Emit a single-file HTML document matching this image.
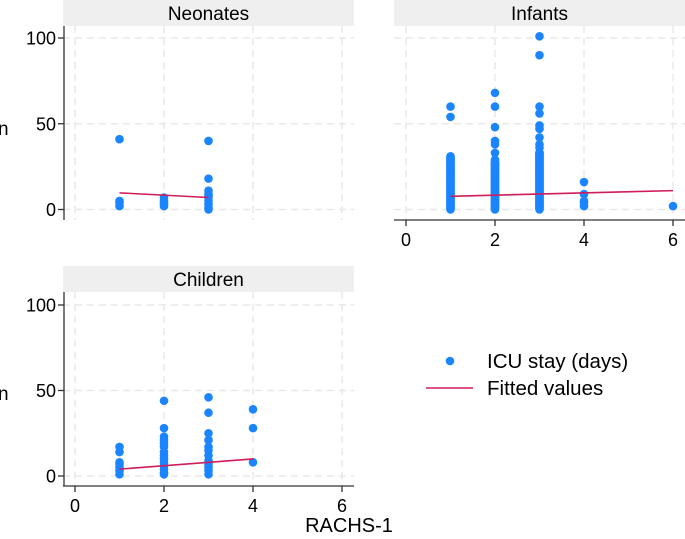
<!DOCTYPE html>
<html><head><meta charset="utf-8"><style>
html,body{margin:0;padding:0;background:#fff;width:685px;height:539px;overflow:hidden}
svg{font-family:"Liberation Sans",Arial,sans-serif}
</style></head><body>
<svg id="chart" width="685" height="539" viewBox="0 0 685 539" xmlns="http://www.w3.org/2000/svg">
<text x="-2" y="135" font-size="19">n</text>
<text x="-2" y="400" font-size="19">n</text>
<text x="349" y="532" font-size="20" text-anchor="middle">RACHS-1</text>
<g>
<circle cx="450" cy="361" r="4.3" fill="#1a85ff"/>
<text x="487" y="368" font-size="20.5">ICU stay (days)</text>
<line x1="426" y1="388" x2="473" y2="388" stroke="#d01c5b" stroke-width="1.5"/>
<text x="487" y="395" font-size="20.5">Fitted values</text>
</g>
</svg>
<script>
const xTicks=[0,2,4,6];
const yTicks=[0,50,100];
const neoX=[1,1,1,1,2,2,2,2,2,3,3,3,3,3,3,3,3,3,3];
const neoY=[41,5,4,2,7,5,4,3,2,40,18,11,9,8,7,5,3,1,0];
const neoFitX=[1,3];const neoFitY=[9.7,7];
const infX=[1,1,2,2,2,2,2,2,2,3,3,3,3,3,3,3,3,3,3,4,4,4,4,4,6];
const infY=[60,54,68,60,48,40,38,33,29,101,90,60,56,49,47,42,38,36,33,16,9,5,4,2,2];
const infDenseX=[1,2,3];const infDenseMax=[31,28,33];
const infFitX=[1,6];const infFitY=[7.7,11];
const chiX=[1,1,1,1,1,1,1,2,2,2,2,2,2,2,2,2,2,2,2,2,2,3,3,3,3,3,3,3,3,3,3,3,3,4,4,4];
const chiY=[17,14,8,7,5,3,1,44,28,23,21,19,17,14,12,10,8,6,4,2,1,46,37,25,21,17,15,12,9,7,5,3,1,39,28,8];
const chiFitX=[1,4];const chiFitY=[4,10];
const NS="http://www.w3.org/2000/svg";
const svg=document.getElementById('chart');
function mk(t,a,p){const e=document.createElementNS(NS,t);for(const k in a)e.setAttribute(k,a[k]);(p||svg).appendChild(e);return e;}
function panel(name,key,L,T,W,H,y0px,y100px,showY,showX,title,xs,ys,fx,fy,dx,dm){
 const g=mk('g',{});
 
 
 const sx=v=>L+12+v*44.5;
 const sy=v=>y0px+(y100px-y0px)*v/100;
 const hb=mk('rect',{x:L,y:T,width:W,height:26,fill:'#efefef'},g);
 
 
 const tt=mk('text',{x:L+W/2,y:T+20,'font-size':19,'text-anchor':'middle'},g);
 tt.textContent=title;
 
 
 const top=T+26,bot=top+H;
 yTicks.forEach(v=>{const l=mk('line',{x1:L,x2:L+W,y1:sy(v),y2:sy(v),stroke:'#e8e8e8','stroke-width':1.5,'stroke-dasharray':'7,5'},g);
  });
 xTicks.forEach(v=>{const l=mk('line',{x1:sx(v),x2:sx(v),y1:top,y2:bot,stroke:'#e8e8e8','stroke-width':1.5,'stroke-dasharray':'7,5'},g);
  });
 if(showY){const a=mk('line',{x1:L+1,x2:L+1,y1:top,y2:bot,stroke:'#333','stroke-width':1.3},g);
  
  yTicks.forEach(v=>{mk('line',{x1:L-5,x2:L+1,y1:sy(v),y2:sy(v),stroke:'#333','stroke-width':1.3},g);
   const t=mk('text',{x:L-7,y:sy(v)+6.5,'font-size':18,'text-anchor':'end'},g);t.textContent=v;
   });}
 if(showX){const a=mk('line',{x1:L,x2:L+W,y1:bot,y2:bot,stroke:'#333','stroke-width':1.3},g);
  
  xTicks.forEach(v=>{mk('line',{x1:sx(v),x2:sx(v),y1:bot,y2:bot+6,stroke:'#333','stroke-width':1.3},g);
   const t=mk('text',{x:sx(v),y:bot+26,'font-size':18,'text-anchor':'middle'},g);t.textContent=v;
   });}
 if(dx){dx.forEach((x,i)=>{for(let v=0;v<=dm[i];v+=0.5){const c=mk('circle',{cx:sx(x),cy:sy(v),r:4.3,fill:'#1a85ff'},g);
  }});}
 xs.forEach((x,i)=>{const c=mk('circle',{cx:sx(x),cy:sy(ys[i]),r:4.3,fill:'#1a85ff'},g);
  });
 const f=mk('line',{x1:sx(fx[0]),y1:sy(fy[0]),x2:sx(fx[1]),y2:sy(fy[1]),stroke:'#d01c5b','stroke-width':1.6},g);
 
}
panel('n','neonates',63,0,291,194,209.5,38,true,false,'Neonates',neoX,neoY,neoFitX,neoFitY);
panel('n','infants',394,0,291,194,209.5,38,false,true,'Infants',infX,infY,infFitX,infFitY,infDenseX,infDenseMax);
panel('n','children',63,266,291,194,476,305,true,true,'Children',chiX,chiY,chiFitX,chiFitY);
</script>
</body></html>
